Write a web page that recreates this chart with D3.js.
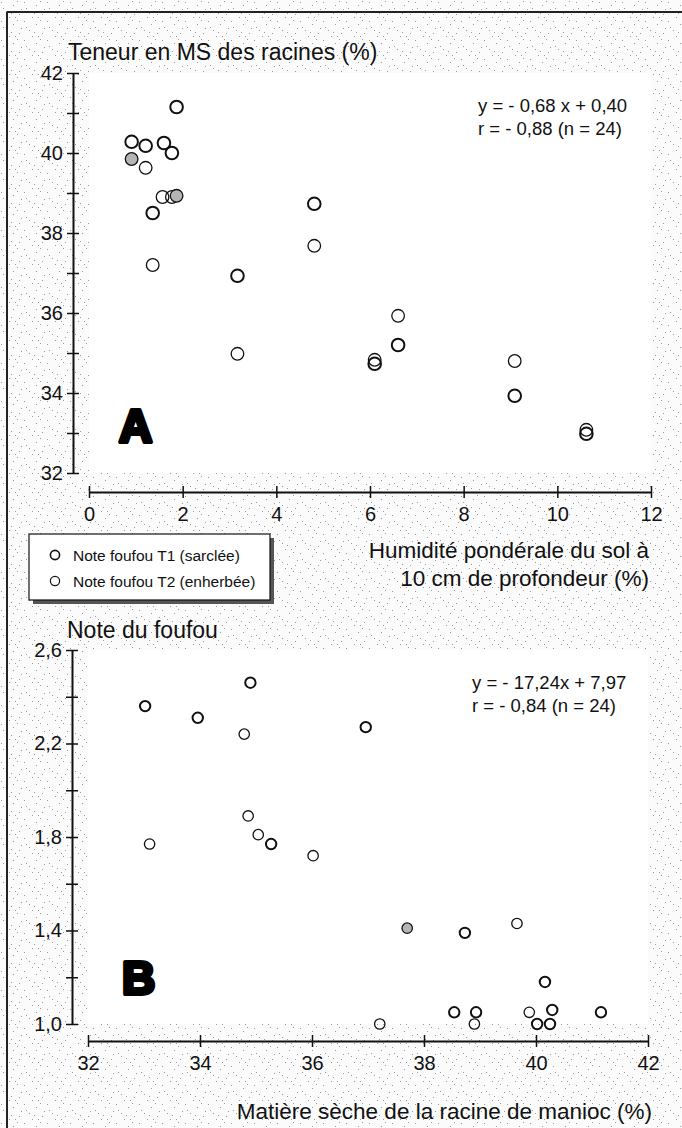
<!DOCTYPE html>
<html>
<head>
<meta charset="utf-8">
<script src="https://cdn.jsdelivr.net/npm/d3@7/dist/d3.min.js"></script>
<style>
  body { margin: 0; background: #fff; }
  svg text { font-family: "Liberation Sans", Arial, sans-serif; fill: #111; }
</style>
</head>
<body>
<svg id="chart"></svg>
<script>
// --- data ---
// panel A : humidite du sol (%) vs teneur en MS des racines (%)
var humA = [1.87, 0.91, 1.21, 1.60, 1.77, 0.91, 1.21, 1.57, 1.77, 1.87, 1.36, 4.81,
            4.81, 1.36, 3.17, 3.17, 6.60, 6.60, 6.10, 6.10, 9.09, 9.09, 10.62, 10.62];
var msA  = [41.15, 40.28, 40.18, 40.25, 40.00, 39.85, 39.63, 38.90, 38.90, 38.93, 38.50, 38.73,
            37.68, 37.20, 36.93, 34.98, 35.93, 35.20, 34.83, 34.73, 34.80, 33.93, 33.08, 32.98];
var grpA = ["T1", "T1", "T1", "T1", "T1", "T1+T2", "T2", "T2", "T2", "T1+T2", "T1", "T1",
            "T2", "T2", "T1", "T2", "T2", "T1", "T2", "T1", "T2", "T1", "T2", "T1"];

// panel B : matiere seche de la racine (%) vs note du foufou
var msB   = [33.02, 33.10, 33.96, 34.79, 34.86, 34.90, 35.04, 35.27, 36.02, 36.96, 37.21, 37.70,
             38.54, 38.73, 38.90, 38.93, 39.66, 39.88, 40.02, 40.16, 40.25, 40.29, 41.16];
var noteB = [2.36, 1.77, 2.31, 2.24, 1.89, 2.46, 1.81, 1.77, 1.72, 2.27, 1.00, 1.41,
             1.05, 1.39, 1.00, 1.05, 1.43, 1.05, 1.00, 1.18, 1.00, 1.06, 1.05];
var grpB  = ["T1", "T2", "T1", "T2", "T2", "T1", "T2", "T1", "T2", "T1", "T2", "T1+T2",
             "T1", "T1", "T2", "T1", "T2", "T2", "T1", "T1", "T1", "T1", "T1"];

var xTicksA = [0, 2, 4, 6, 8, 10, 12];
var yTicksA = [32, 33, 34, 35, 36, 37, 38, 39, 40, 41, 42];
var xTicksB = [32, 34, 36, 38, 40, 42];
var yTicksB = [1.0, 1.2, 1.4, 1.6, 1.8, 2.0, 2.2, 2.4, 2.6];

var legendLabels = ["Note foufou T1 (sarclée)", "Note foufou T2 (enherbée)"];

var W = 682, H = 1128;
var fr = d3.formatLocale({decimal: ",", thousands: " ", grouping: [3], currency: ["", ""]});

var svg = d3.select("#chart").attr("width", W).attr("height", H);

// fond tramé (scan)
var defs = svg.append("defs");
var pat = defs.append("pattern").attr("id", "speckle")
    .attr("width", 23).attr("height", 19).attr("patternUnits", "userSpaceOnUse");
pat.append("rect").attr("width", 23).attr("height", 19).attr("fill", "#fbfbfb");
[[1, 2], [13, 5], [6, 11], [19, 14], [9, 17], [17, 1], [3, 8], [21, 9], [11, 13], [15, 17]].forEach(function (p) {
    pat.append("rect").attr("x", p[0]).attr("y", p[1]).attr("width", 1).attr("height", 1)
        .attr("fill", "#9a9a9a");
});
svg.append("rect").attr("width", W).attr("height", H).attr("fill", "url(#speckle)");

// cadre
svg.append("line").attr("x1", 7).attr("x2", W).attr("y1", 12).attr("y2", 12)
    .attr("stroke", "#222").attr("stroke-width", 2);
svg.append("line").attr("x1", 7).attr("x2", 7).attr("y1", 12).attr("y2", H)
    .attr("stroke", "#222").attr("stroke-width", 2);

function panel(o) {
    var x = d3.scaleLinear().domain(o.xDomain).range(o.xRange);
    var y = d3.scaleLinear().domain(o.yDomain).range(o.yRange);

    // zone blanche
    svg.append("rect")
        .attr("x", o.xRange[0]).attr("y", o.yRange[1])
        .attr("width", o.xRange[1] - o.xRange[0]).attr("height", o.yRange[0] - o.yRange[1])
        .attr("fill", "#fff");

    var gx = svg.append("g").attr("transform", "translate(0," + o.xAxisY + ")")
        .call(d3.axisBottom(x).tickValues(o.xTicks).tickSize(6).tickSizeOuter(0)
            .tickFormat(fr.format("d")));
    var gy = svg.append("g").attr("transform", "translate(" + o.yAxisX + ",0)")
        .call(d3.axisLeft(y).tickValues(o.yTicks).tickSize(6).tickSizeOuter(0)
            .tickFormat(o.yFormat));

    [gx, gy].forEach(function (g) {
        g.attr("font-size", 20).attr("font-family", "Liberation Sans, Arial, sans-serif");
        g.select(".domain").attr("stroke", "#111").attr("stroke-width", 2);
        g.selectAll(".tick line").attr("stroke", "#111").attr("stroke-width", 1.5);
        g.selectAll(".tick text").attr("fill", "#111");
    });
    gx.selectAll(".tick line").attr("y1", -6).attr("y2", 6);
    gx.selectAll(".tick text").attr("y", 15);
    gy.selectAll(".tick line").attr("x1", 6).attr("x2", -6);
    gy.selectAll(".tick text").attr("x", -10);

    // points
    svg.append("g").selectAll("circle")
        .data(o.xs.map(function (d, i) { return {x: d, y: o.ys[i], g: o.grp[i]}; }))
        .enter().append("circle")
        .attr("cx", function (d) { return x(d.x); })
        .attr("cy", function (d) { return y(d.y); })
        .attr("r", o.r)
        .attr("fill", function (d) { return d.g === "T1+T2" ? "#b5b5b5" : "none"; })
        .attr("stroke", "#111")
        .attr("stroke-width", function (d) { return d.g === "T1" ? 2 : 1.3; });

    // lettre du panneau
    svg.append("text").attr("x", o.letter[0]).attr("y", o.letter[1])
        .attr("font-family", "DejaVu Sans, sans-serif").attr("font-weight", "bold")
        .attr("font-size", 46).attr("stroke", "#000").attr("stroke-width", 4)
        .attr("stroke-linejoin", "round")
        .style("fill", "#000")
        .text(o.letterText);

    // equation
    o.eq.forEach(function (t, i) {
        svg.append("text").attr("x", o.eqPos[0]).attr("y", o.eqPos[1] + i * 23)
            .attr("font-size", 18.5).text(t);
    });

    svg.append("text").attr("x", o.title[0]).attr("y", o.title[1])
        .attr("font-size", 23).text(o.titleText);

    o.xLabel.forEach(function (t, i) {
        svg.append("text").attr("x", o.xLabelPos[0]).attr("y", o.xLabelPos[1] + i * 28)
            .attr("text-anchor", "end").attr("font-size", 22.5).text(t);
    });
}

panel({
    xDomain: [0, 12], xRange: [89, 651],
    yDomain: [32, 42], yRange: [473, 73],
    xAxisY: 492, yAxisX: 73,
    xTicks: xTicksA, yTicks: yTicksA,
    yFormat: function (d) { return d % 2 === 0 ? fr.format("d")(d) : ""; },
    xs: humA, ys: msA, grp: grpA, r: 6.3,
    letter: [119, 442], letterText: "A",
    eq: ["y = - 0,68 x + 0,40", "r = - 0,88 (n = 24)"], eqPos: [478, 112],
    title: [68, 60], titleText: "Teneur en MS des racines (%)",
    xLabel: ["Humidité pondérale du sol à", "10 cm de profondeur (%)"], xLabelPos: [649, 558]
});

panel({
    xDomain: [32, 42], xRange: [88, 648],
    yDomain: [1.0, 2.6], yRange: [1024, 650],
    xAxisY: 1041, yAxisX: 72,
    xTicks: xTicksB, yTicks: yTicksB,
    yFormat: function (d) {
        var k = Math.round(d * 10);
        return (k - 10) % 4 === 0 ? fr.format(".1f")(d) : "";
    },
    xs: msB, ys: noteB, grp: grpB, r: 5.2,
    letter: [122, 994], letterText: "B",
    eq: ["y = - 17,24x + 7,97", "r = - 0,84 (n = 24)"], eqPos: [472, 689],
    title: [67, 638], titleText: "Note du foufou",
    xLabel: ["Matière sèche de la racine de manioc (%)"], xLabelPos: [652, 1119]
});

// legende
var lg = svg.append("g").attr("transform", "translate(29,534)");
lg.append("rect").attr("x", 4).attr("y", 4).attr("width", 241).attr("height", 66)
    .attr("fill", "#555");
lg.append("rect").attr("width", 241).attr("height", 66)
    .attr("fill", "#fff").attr("stroke", "#111").attr("stroke-width", 1.2);
legendLabels.forEach(function (t, i) {
    lg.append("circle").attr("cx", 26).attr("cy", 21 + i * 26).attr("r", 4.6)
        .attr("fill", "none").attr("stroke", "#111").attr("stroke-width", i === 0 ? 1.6 : 1.2);
    lg.append("text").attr("x", 44).attr("y", 27 + i * 26).attr("font-size", 15.5).text(t);
});
</script>
</body>
</html>
